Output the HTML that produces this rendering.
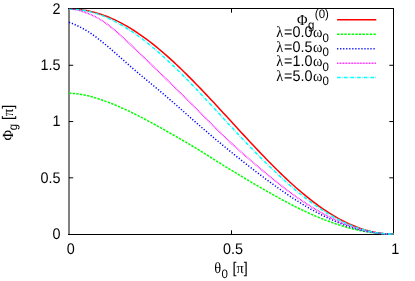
<!DOCTYPE html>
<html><head><meta charset="utf-8"><title>plot</title>
<style>html,body{margin:0;padding:0;background:#fff;}svg{display:block;}</style>
</head><body>
<svg width="415" height="281" viewBox="0 0 415 281" style="will-change:transform">
<rect width="415" height="281" fill="#fff"/>
<rect x="68" y="8" width="2" height="227" fill="#808080"/>
<rect x="68" y="8" width="326" height="1" fill="#000"/>
<rect x="68" y="234" width="326" height="1" fill="#000"/>
<rect x="393" y="8" width="1" height="227" fill="#000"/>
<clipPath id="cp"><rect x="68" y="8.7" width="330" height="232"/></clipPath>
<g clip-path="url(#cp)">
<path d="M69.00,9.00 L71.50,9.03 L73.99,9.13 L76.49,9.30 L78.98,9.53 L81.48,9.82 L83.98,10.18 L86.47,10.61 L88.97,11.10 L91.47,11.65 L93.96,12.27 L96.46,12.95 L98.95,13.70 L101.45,14.51 L103.95,15.38 L106.44,16.31 L108.94,17.31 L111.43,18.37 L113.93,19.48 L116.43,20.66 L118.92,21.89 L121.42,23.18 L123.92,24.54 L126.41,25.94 L128.91,27.41 L131.40,28.92 L133.90,30.50 L136.40,32.12 L138.89,33.80 L141.39,35.53 L143.88,37.31 L146.38,39.13 L148.88,41.01 L151.37,42.93 L153.87,44.90 L156.37,46.92 L158.86,48.97 L161.36,51.07 L163.85,53.21 L166.35,55.39 L168.85,57.61 L171.34,59.87 L173.84,62.16 L176.33,64.49 L178.83,66.85 L181.33,69.25 L183.82,71.67 L186.32,74.12 L188.82,76.60 L191.31,79.11 L193.81,81.64 L196.30,84.19 L198.80,86.77 L201.30,89.37 L203.79,91.98 L206.29,94.62 L208.78,97.26 L211.28,99.93 L213.78,102.60 L216.27,105.29 L218.77,107.98 L221.27,110.69 L223.76,113.40 L226.26,116.11 L228.75,118.83 L231.25,121.55 L233.75,124.27 L236.24,126.99 L238.74,129.70 L241.23,132.41 L243.73,135.12 L246.23,137.81 L248.72,140.50 L251.22,143.17 L253.72,145.84 L256.21,148.48 L258.71,151.12 L261.20,153.73 L263.70,156.33 L266.20,158.91 L268.69,161.46 L271.19,163.99 L273.68,166.50 L276.18,168.98 L278.68,171.43 L281.17,173.85 L283.67,176.25 L286.17,178.61 L288.66,180.94 L291.16,183.23 L293.65,185.49 L296.15,187.71 L298.65,189.89 L301.14,192.03 L303.64,194.13 L306.13,196.18 L308.63,198.20 L311.13,200.17 L313.62,202.09 L316.12,203.97 L318.62,205.79 L321.11,207.57 L323.61,209.30 L326.10,210.98 L328.60,212.60 L331.10,214.18 L333.59,215.69 L336.09,217.16 L338.58,218.56 L341.08,219.92 L343.58,221.21 L346.07,222.44 L348.57,223.62 L351.07,224.73 L353.56,225.79 L356.06,226.79 L358.55,227.72 L361.05,228.59 L363.55,229.40 L366.04,230.15 L368.54,230.83 L371.03,231.45 L373.53,232.00 L376.03,232.49 L378.52,232.92 L381.02,233.28 L383.52,233.57 L386.01,233.80 L388.51,233.97 L391.00,234.07 L393.50,234.10" fill="none" stroke="#ff0000" stroke-width="1.5"/>
<path d="M69.00,93.30 L71.50,93.35 L73.99,93.49 L76.49,93.72 L78.98,94.04 L81.48,94.43 L83.98,94.90 L86.47,95.43 L88.97,96.04 L91.47,96.69 L93.96,97.41 L96.46,98.17 L98.95,98.98 L101.45,99.82 L103.95,100.70 L106.44,101.61 L108.94,102.55 L111.43,103.52 L113.93,104.53 L116.43,105.56 L118.92,106.62 L121.42,107.72 L123.92,108.83 L126.41,109.98 L128.91,111.15 L131.40,112.35 L133.90,113.57 L136.40,114.81 L138.89,116.07 L141.39,117.36 L143.88,118.66 L146.38,119.99 L148.88,121.32 L151.37,122.67 L153.87,124.03 L156.37,125.41 L158.86,126.79 L161.36,128.18 L163.85,129.58 L166.35,130.99 L168.85,132.40 L171.34,133.81 L173.84,135.23 L176.33,136.66 L178.83,138.10 L181.33,139.55 L183.82,141.00 L186.32,142.47 L188.82,143.95 L191.31,145.44 L193.81,146.94 L196.30,148.45 L198.80,149.97 L201.30,151.51 L203.79,153.06 L206.29,154.61 L208.78,156.17 L211.28,157.74 L213.78,159.30 L216.27,160.87 L218.77,162.43 L221.27,163.99 L223.76,165.55 L226.26,167.10 L228.75,168.64 L231.25,170.17 L233.75,171.69 L236.24,173.21 L238.74,174.71 L241.23,176.21 L243.73,177.69 L246.23,179.18 L248.72,180.65 L251.22,182.12 L253.72,183.58 L256.21,185.04 L258.71,186.50 L261.20,187.94 L263.70,189.38 L266.20,190.82 L268.69,192.24 L271.19,193.66 L273.68,195.07 L276.18,196.46 L278.68,197.84 L281.17,199.21 L283.67,200.56 L286.17,201.89 L288.66,203.21 L291.16,204.51 L293.65,205.79 L296.15,207.05 L298.65,208.29 L301.14,209.51 L303.64,210.70 L306.13,211.88 L308.63,213.02 L311.13,214.15 L313.62,215.25 L316.12,216.33 L318.62,217.38 L321.11,218.40 L323.61,219.40 L326.10,220.37 L328.60,221.31 L331.10,222.22 L333.59,223.11 L336.09,223.96 L338.58,224.79 L341.08,225.58 L343.58,226.34 L346.07,227.07 L348.57,227.77 L351.07,228.43 L353.56,229.06 L356.06,229.66 L358.55,230.22 L361.05,230.74 L363.55,231.23 L366.04,231.68 L368.54,232.09 L371.03,232.47 L373.53,232.81 L376.03,233.11 L378.52,233.37 L381.02,233.59 L383.52,233.77 L386.01,233.92 L388.51,234.02 L391.00,234.08 L393.50,234.10" fill="none" stroke="#00ff00" stroke-width="1.5" stroke-dasharray="2.42 1.21"/>
<path d="M69.00,22.28 L71.50,23.22 L73.99,24.24 L76.49,25.33 L78.98,26.50 L81.48,27.77 L83.98,29.13 L86.47,30.60 L88.97,32.17 L91.47,33.84 L93.96,35.59 L96.46,37.42 L98.95,39.33 L101.45,41.30 L103.95,43.32 L106.44,45.39 L108.94,47.50 L111.43,49.65 L113.93,51.82 L116.43,54.01 L118.92,56.21 L121.42,58.43 L123.92,60.64 L126.41,62.85 L128.91,65.04 L131.40,67.23 L133.90,69.38 L136.40,71.52 L138.89,73.63 L141.39,75.72 L143.88,77.79 L146.38,79.86 L148.88,81.92 L151.37,83.98 L153.87,86.04 L156.37,88.11 L158.86,90.19 L161.36,92.27 L163.85,94.38 L166.35,96.50 L168.85,98.64 L171.34,100.80 L173.84,102.97 L176.33,105.16 L178.83,107.35 L181.33,109.56 L183.82,111.76 L186.32,113.97 L188.82,116.17 L191.31,118.37 L193.81,120.57 L196.30,122.75 L198.80,124.93 L201.30,127.09 L203.79,129.25 L206.29,131.39 L208.78,133.52 L211.28,135.63 L213.78,137.74 L216.27,139.83 L218.77,141.92 L221.27,143.99 L223.76,146.05 L226.26,148.10 L228.75,150.14 L231.25,152.16 L233.75,154.18 L236.24,156.18 L238.74,158.17 L241.23,160.16 L243.73,162.13 L246.23,164.09 L248.72,166.03 L251.22,167.97 L253.72,169.90 L256.21,171.81 L258.71,173.72 L261.20,175.61 L263.70,177.48 L266.20,179.35 L268.69,181.20 L271.19,183.03 L273.68,184.85 L276.18,186.64 L278.68,188.42 L281.17,190.18 L283.67,191.92 L286.17,193.63 L288.66,195.32 L291.16,196.98 L293.65,198.62 L296.15,200.23 L298.65,201.82 L301.14,203.37 L303.64,204.89 L306.13,206.39 L308.63,207.85 L311.13,209.28 L313.62,210.68 L316.12,212.05 L318.62,213.38 L321.11,214.67 L323.61,215.93 L326.10,217.16 L328.60,218.34 L331.10,219.49 L333.59,220.60 L336.09,221.67 L338.58,222.70 L341.08,223.69 L343.58,224.64 L346.07,225.54 L348.57,226.40 L351.07,227.22 L353.56,228.00 L356.06,228.73 L358.55,229.41 L361.05,230.05 L363.55,230.65 L366.04,231.19 L368.54,231.70 L371.03,232.15 L373.53,232.56 L376.03,232.92 L378.52,233.23 L381.02,233.50 L383.52,233.71 L386.01,233.88 L388.51,234.00 L391.00,234.08 L393.50,234.10" fill="none" stroke="#0000ff" stroke-width="1.5" stroke-dasharray="1.21 1.82"/>
<path d="M69.00,9.00 L71.50,9.10 L73.99,9.38 L76.49,9.83 L78.98,10.43 L81.48,11.14 L83.98,11.96 L86.47,12.86 L88.97,13.83 L91.47,14.90 L93.96,16.06 L96.46,17.32 L98.95,18.71 L101.45,20.22 L103.95,21.86 L106.44,23.63 L108.94,25.50 L111.43,27.48 L113.93,29.54 L116.43,31.67 L118.92,33.86 L121.42,36.11 L123.92,38.39 L126.41,40.71 L128.91,43.06 L131.40,45.42 L133.90,47.80 L136.40,50.19 L138.89,52.58 L141.39,54.98 L143.88,57.38 L146.38,59.78 L148.88,62.19 L151.37,64.61 L153.87,67.03 L156.37,69.45 L158.86,71.87 L161.36,74.30 L163.85,76.73 L166.35,79.16 L168.85,81.60 L171.34,84.03 L173.84,86.47 L176.33,88.92 L178.83,91.37 L181.33,93.83 L183.82,96.29 L186.32,98.76 L188.82,101.24 L191.31,103.72 L193.81,106.22 L196.30,108.72 L198.80,111.23 L201.30,113.74 L203.79,116.26 L206.29,118.78 L208.78,121.29 L211.28,123.80 L213.78,126.29 L216.27,128.77 L218.77,131.23 L221.27,133.67 L223.76,136.08 L226.26,138.47 L228.75,140.83 L231.25,143.16 L233.75,145.46 L236.24,147.73 L238.74,149.97 L241.23,152.19 L243.73,154.39 L246.23,156.57 L248.72,158.73 L251.22,160.87 L253.72,163.01 L256.21,165.13 L258.71,167.23 L261.20,169.33 L263.70,171.42 L266.20,173.49 L268.69,175.55 L271.19,177.60 L273.68,179.62 L276.18,181.63 L278.68,183.61 L281.17,185.57 L283.67,187.50 L286.17,189.41 L288.66,191.28 L291.16,193.12 L293.65,194.93 L296.15,196.71 L298.65,198.45 L301.14,200.15 L303.64,201.82 L306.13,203.46 L308.63,205.06 L311.13,206.63 L313.62,208.16 L316.12,209.66 L318.62,211.12 L321.11,212.54 L323.61,213.93 L326.10,215.27 L328.60,216.58 L331.10,217.85 L333.59,219.08 L336.09,220.26 L338.58,221.40 L341.08,222.50 L343.58,223.55 L346.07,224.56 L348.57,225.52 L351.07,226.43 L353.56,227.29 L356.06,228.10 L358.55,228.87 L361.05,229.58 L363.55,230.25 L366.04,230.86 L368.54,231.42 L371.03,231.93 L373.53,232.38 L376.03,232.78 L378.52,233.13 L381.02,233.43 L383.52,233.67 L386.01,233.86 L388.51,233.99 L391.00,234.07 L393.50,234.10" fill="none" stroke="#ff00ff" stroke-width="1.5" stroke-dasharray="0.79 0.73"/>
<path d="M69.00,9.00 L71.50,9.04 L73.99,9.16 L76.49,9.36 L78.98,9.63 L81.48,9.98 L83.98,10.40 L86.47,10.90 L88.97,11.48 L91.47,12.12 L93.96,12.83 L96.46,13.62 L98.95,14.47 L101.45,15.39 L103.95,16.37 L106.44,17.42 L108.94,18.53 L111.43,19.70 L113.93,20.94 L116.43,22.24 L118.92,23.59 L121.42,25.01 L123.92,26.48 L126.41,28.01 L128.91,29.60 L131.40,31.24 L133.90,32.94 L136.40,34.69 L138.89,36.49 L141.39,38.34 L143.88,40.23 L146.38,42.18 L148.88,44.17 L151.37,46.21 L153.87,48.29 L156.37,50.42 L158.86,52.59 L161.36,54.80 L163.85,57.04 L166.35,59.33 L168.85,61.65 L171.34,64.00 L173.84,66.39 L176.33,68.81 L178.83,71.26 L181.33,73.74 L183.82,76.25 L186.32,78.78 L188.82,81.34 L191.31,83.92 L193.81,86.52 L196.30,89.14 L198.80,91.78 L201.30,94.44 L203.79,97.11 L206.29,99.79 L208.78,102.48 L211.28,105.18 L213.78,107.89 L216.27,110.60 L218.77,113.31 L221.27,116.03 L223.76,118.74 L226.26,121.44 L228.75,124.15 L231.25,126.84 L233.75,129.53 L236.24,132.20 L238.74,134.87 L241.23,137.52 L243.73,140.16 L246.23,142.78 L248.72,145.39 L251.22,147.99 L253.72,150.57 L256.21,153.13 L258.71,155.67 L261.20,158.19 L263.70,160.68 L266.20,163.16 L268.69,165.61 L271.19,168.04 L273.68,170.44 L276.18,172.81 L278.68,175.15 L281.17,177.46 L283.67,179.74 L286.17,181.99 L288.66,184.20 L291.16,186.38 L293.65,188.52 L296.15,190.63 L298.65,192.69 L301.14,194.72 L303.64,196.70 L306.13,198.65 L308.63,200.55 L311.13,202.41 L313.62,204.22 L316.12,205.99 L318.62,207.71 L321.11,209.38 L323.61,211.01 L326.10,212.58 L328.60,214.11 L331.10,215.58 L333.59,217.01 L336.09,218.38 L338.58,219.70 L341.08,220.96 L343.58,222.17 L346.07,223.32 L348.57,224.41 L351.07,225.45 L353.56,226.44 L356.06,227.36 L358.55,228.23 L361.05,229.03 L363.55,229.78 L366.04,230.47 L368.54,231.10 L371.03,231.67 L373.53,232.18 L376.03,232.63 L378.52,233.02 L381.02,233.35 L383.52,233.62 L386.01,233.83 L388.51,233.98 L391.00,234.07 L393.50,234.10" fill="none" stroke="#00ffff" stroke-width="1.5" stroke-dasharray="3.64 1.21 0.61 1.21"/>
</g>
<path d="M337.1,19.8 L376.3,19.8" fill="none" stroke="#ff0000" stroke-width="1.5"/>
<path d="M337.1,34.25 L376.3,34.25" fill="none" stroke="#00ff00" stroke-width="1.5" stroke-dasharray="2.42 1.21"/>
<path d="M337.1,48.7 L376.3,48.7" fill="none" stroke="#0000ff" stroke-width="1.5" stroke-dasharray="1.21 1.82"/>
<path d="M337.1,63.15 L376.3,63.15" fill="none" stroke="#ff00ff" stroke-width="1.5" stroke-dasharray="0.79 0.73"/>
<path d="M337.1,77.6 L376.3,77.6" fill="none" stroke="#00ffff" stroke-width="1.5" stroke-dasharray="3.64 1.21 0.61 1.21"/>
<path d="M69,177.82 h4.2 M393.5,177.82 h-4.2" stroke="#000" stroke-width="1" fill="none"/>
<path d="M69,121.55 h4.2 M393.5,121.55 h-4.2" stroke="#000" stroke-width="1" fill="none"/>
<path d="M69,65.28 h4.2 M393.5,65.28 h-4.2" stroke="#000" stroke-width="1" fill="none"/>
<path d="M231.50,234.5 v-4.2 M231.50,8.5 v4.2" stroke="#000" stroke-width="1" fill="none"/>
<g font-family="Liberation Sans, sans-serif" font-size="14.4px" fill="#000" style="text-rendering:geometricPrecision">
<text transform="translate(60.4,238.90) scale(1,1.07)" text-anchor="end">0</text>
<text transform="translate(60.4,182.62) scale(1,1.07)" text-anchor="end">0.5</text>
<text transform="translate(60.4,126.35) scale(1,1.07)" text-anchor="end">1</text>
<text transform="translate(60.4,70.08) scale(1,1.07)" text-anchor="end">1.5</text>
<text transform="translate(60.4,13.80) scale(1,1.07)" text-anchor="end">2</text>
<text transform="translate(70.80,253.7) scale(1,1.07)" text-anchor="middle">0</text>
<text transform="translate(233.05,253.7) scale(1,1.07)" text-anchor="middle">0.5</text>
<text transform="translate(395.30,253.7) scale(1,1.07)" text-anchor="middle">1</text>
<text transform="translate(214.2,273) scale(1,1.07)" font-family="Liberation Serif, serif">θ</text>
<text transform="translate(221.4,277.5) scale(1,1.07)" font-size="11.5px">0</text>
<text transform="translate(232.6,273) scale(1,1.07)">[<tspan font-family="Liberation Serif, serif">π</tspan>]</text>
<g transform="translate(12.8,140.4) rotate(-90)">
<text transform="translate(0,0) scale(1,1.07)" font-family="Liberation Serif, serif">Φ</text>
<text transform="translate(10.2,4.5) scale(1,1.07)" font-size="11.5px">g</text>
<text transform="translate(20.4,0) scale(1,1.07)">[<tspan font-family="Liberation Serif, serif">π</tspan>]</text>
</g>
<text transform="translate(297,24.5) scale(1,1.07)" font-family="Liberation Serif, serif">Φ</text>
<text transform="translate(308,28.5) scale(1,1.07)" font-size="11.5px">g</text>
<text transform="translate(314.8,17.6) scale(1,1.07)" font-size="11.5px">(0)</text>
<text transform="translate(276.2,37.35) scale(1,1.07)" font-family="Liberation Serif, serif">λ</text>
<text transform="translate(284,37.35) scale(1,1.07)">=0.0</text>
<text transform="translate(313,37.35) scale(1,1.07)" font-family="Liberation Serif, serif">ω</text>
<text transform="translate(322.5,41.85) scale(1,1.07)" font-size="11.5px">0</text>
<text transform="translate(276.2,51.80) scale(1,1.07)" font-family="Liberation Serif, serif">λ</text>
<text transform="translate(284,51.80) scale(1,1.07)">=0.5</text>
<text transform="translate(313,51.80) scale(1,1.07)" font-family="Liberation Serif, serif">ω</text>
<text transform="translate(322.5,56.30) scale(1,1.07)" font-size="11.5px">0</text>
<text transform="translate(276.2,66.25) scale(1,1.07)" font-family="Liberation Serif, serif">λ</text>
<text transform="translate(284,66.25) scale(1,1.07)">=1.0</text>
<text transform="translate(313,66.25) scale(1,1.07)" font-family="Liberation Serif, serif">ω</text>
<text transform="translate(322.5,70.75) scale(1,1.07)" font-size="11.5px">0</text>
<text transform="translate(276.2,80.70) scale(1,1.07)" font-family="Liberation Serif, serif">λ</text>
<text transform="translate(284,80.70) scale(1,1.07)">=5.0</text>
<text transform="translate(313,80.70) scale(1,1.07)" font-family="Liberation Serif, serif">ω</text>
<text transform="translate(322.5,85.20) scale(1,1.07)" font-size="11.5px">0</text>
</g>
</svg>
</body></html>
